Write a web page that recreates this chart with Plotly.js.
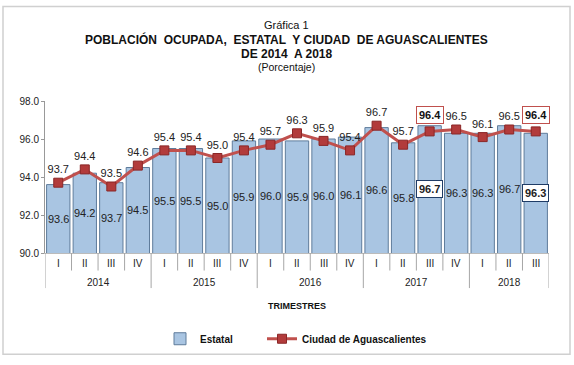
<!DOCTYPE html>
<html>
<head>
<meta charset="utf-8">
<script src="https://cdn.plot.ly/plotly-3.0.1.min.js"></script>
<style>
html,body{margin:0;padding:0;background:#fff;}
#chart{width:574px;height:365px;}
</style>
</head>
<body>
<div id="chart"></div>
<script>
const years = ['2014','2014','2014','2014','2015','2015','2015','2015','2016','2016','2016','2016','2017','2017','2017','2017','2018','2018','2018'];
const quarters = ['I','II','III','IV','I','II','III','IV','I','II','III','IV','I','II','III','IV','I','II','III'];
const estatal = [93.6, 94.2, 93.7, 94.5, 95.5, 95.5, 95.0, 95.9, 96.0, 95.9, 96.0, 96.1, 96.6, 95.8, 96.7, 96.3, 96.3, 96.7, 96.3];
const ciudad  = [93.7, 94.4, 93.5, 94.6, 95.4, 95.4, 95.0, 95.4, 95.7, 96.3, 95.9, 95.4, 96.7, 95.7, 96.4, 96.5, 96.1, 96.5, 96.4];
const boxedIdx = [14, 18];

const FONT = 'Liberation Sans, Arial, sans-serif';
const fmt = v => v.toFixed(1);
const cats = years.map((y, i) => y + ' ' + quarters[i]);
const lineText = ciudad.map((v, i) => boxedIdx.includes(i) ? '' : fmt(v));
const YMIN = 90, YMAX = 98;
const PLOT_H = 156; // px height of the plot area
const PLOT_W = 504; // px width of the plot area
const py = px => -px / PLOT_H; // paper y for a pixel offset below the axis
const px2x = px => (px - 45) / PLOT_W;

const traces = [
  {
    type: 'bar',
    name: 'Estatal',
    legend: 'legend',
    x: cats,
    y: estatal,
    marker: {color: '#a9c5e2', line: {color: '#5f7c9b', width: 1}},
    hoverinfo: 'skip'
  },
  {
    type: 'scatter',
    mode: 'lines+markers+text',
    name: 'Ciudad de Aguascalientes',
    legend: 'legend2',
    x: cats,
    y: ciudad,
    text: lineText,
    textposition: 'top center',
    textfont: {family: FONT, size: 11, color: '#222'},
    line: {color: '#c0504d', width: 3},
    marker: {symbol: 'square', size: 9, color: '#b23b3b', line: {color: '#8a2727', width: 1}},
    cliponaxis: false,
    hoverinfo: 'skip'
  }
];

const annotations = [
  {text: 'Gráfica 1', xref: 'paper', yref: 'paper', x: 0.48, y: (257 - 23) / PLOT_H, yanchor: 'middle', showarrow: false,
   font: {family: FONT, size: 11, color: '#111'}},
  {text: '<b>POBLACIÓN  OCUPADA,  ESTATAL  Y CIUDAD  DE AGUASCALIENTES</b>', xref: 'paper', yref: 'paper', x: 0.48, y: (257 - 38) / PLOT_H, yanchor: 'middle', showarrow: false,
   font: {family: FONT, size: 12, color: '#111'}},
  {text: '<b>DE 2014  A 2018</b>', xref: 'paper', yref: 'paper', x: 0.48, y: (257 - 52.5) / PLOT_H, yanchor: 'middle', showarrow: false,
   font: {family: FONT, size: 12, color: '#111'}},
  {text: '(Porcentaje)', xref: 'paper', yref: 'paper', x: 0.48, y: (257 - 66) / PLOT_H, yanchor: 'middle', showarrow: false,
   font: {family: FONT, size: 10.5, color: '#111'}},
  {text: '<b>TRIMESTRES</b>', xref: 'paper', yref: 'paper', x: 0.5, y: py(311 - 257), yanchor: 'middle', showarrow: false,
   font: {family: FONT, size: 9, color: '#111'}}
];

// bar value labels (centred in the visible part of each bar)
estatal.forEach((v, i) => {
  const boxed = boxedIdx.includes(i);
  annotations.push({
    x: i, y: (YMIN + v) / 2, xref: 'x', yref: 'y', yanchor: 'middle',
    text: boxed ? '<b>' + fmt(v) + '</b>' : fmt(v),
    showarrow: false,
    bgcolor: boxed ? '#fff' : 'rgba(0,0,0,0)',
    bordercolor: boxed ? '#1f3c66' : 'rgba(0,0,0,0)',
    borderwidth: boxed ? 1 : 0, borderpad: 2,
    font: {family: FONT, size: 11, color: '#222'}
  });
});

// boxed line labels
boxedIdx.forEach(i => {
  annotations.push({
    x: i, y: ciudad[i], xref: 'x', yref: 'y', yanchor: 'middle', text: '<b>' + fmt(ciudad[i]) + '</b>',
    showarrow: false, yshift: 16, bgcolor: '#fff', bordercolor: '#c0504d', borderwidth: 1, borderpad: 2,
    font: {family: FONT, size: 11, color: '#111'}
  });
});

// quarter labels
quarters.forEach((q, i) => {
  annotations.push({
    x: i, y: py(11), xref: 'x', yref: 'paper', yanchor: 'middle', text: q, showarrow: false,
    font: {family: FONT, size: 10, color: '#222'}
  });
});

// year labels and dividers
const shapes = [];
const uniqYears = [...new Set(years)];
uniqYears.forEach(yr => {
  const first = years.indexOf(yr), last = years.lastIndexOf(yr);
  annotations.push({
    x: (first + last) / 2, y: py(30), xref: 'x', yref: 'paper', yanchor: 'middle', text: yr, showarrow: false,
    font: {family: FONT, size: 10, color: '#222'}
  });
});
for (let i = 0; i <= years.length; i++) {
  const isYearEdge = i === 0 || i === years.length || years[i] !== years[i - 1];
  shapes.push({
    type: 'line', xref: 'x', yref: 'paper', x0: i - 0.5, x1: i - 0.5, y0: 0, y1: py(isYearEdge ? 36 : 18),
    line: {color: '#a6a6a6', width: 1}
  });
}

// outer frame
shapes.push({type: 'rect', xref: 'paper', yref: 'paper',
  x0: px2x(3), x1: px2x(570), y0: (257 - 361) / PLOT_H, y1: (257 - 4) / PLOT_H,
  line: {color: '#d0d0d0', width: 1.5}, fillcolor: 'rgba(0,0,0,0)', layer: 'below'});

const legendFont = {family: FONT, size: 10, color: '#111', weight: 'bold'};
const layout = {
  width: 574, height: 365,
  margin: {l: 45, r: 25, t: 101, b: 108},
  paper_bgcolor: '#fff', plot_bgcolor: '#fff',
  showlegend: true,
  bargap: 0.12,
  font: {family: FONT, size: 10, color: '#222'},
  xaxis: {
    type: 'category',
    range: [-0.5, years.length - 0.5],
    showline: true, linecolor: '#bbb', linewidth: 1,
    showticklabels: false, ticks: '',
    showgrid: false, zeroline: false
  },
  yaxis: {
    range: [YMIN, YMAX], dtick: 2, tickformat: '.1f',
    showline: true, linecolor: '#999', linewidth: 1,
    ticks: 'outside', ticklen: 3, tickcolor: '#999',
    showgrid: false, zeroline: false,
    tickfont: {size: 10, color: '#222'}
  },
  legend: {
    orientation: 'h', x: px2x(160), xanchor: 'left', y: py(345 - 257), yanchor: 'middle',
    font: legendFont, itemwidth: 30
  },
  legend2: {
    orientation: 'h', x: px2x(262), xanchor: 'left', y: py(345 - 257), yanchor: 'middle',
    font: legendFont, itemwidth: 30
  },
  annotations: annotations,
  shapes: shapes
};

Plotly.newPlot('chart', traces, layout, {displayModeBar: false, staticPlot: true});
</script>
</body>
</html>
